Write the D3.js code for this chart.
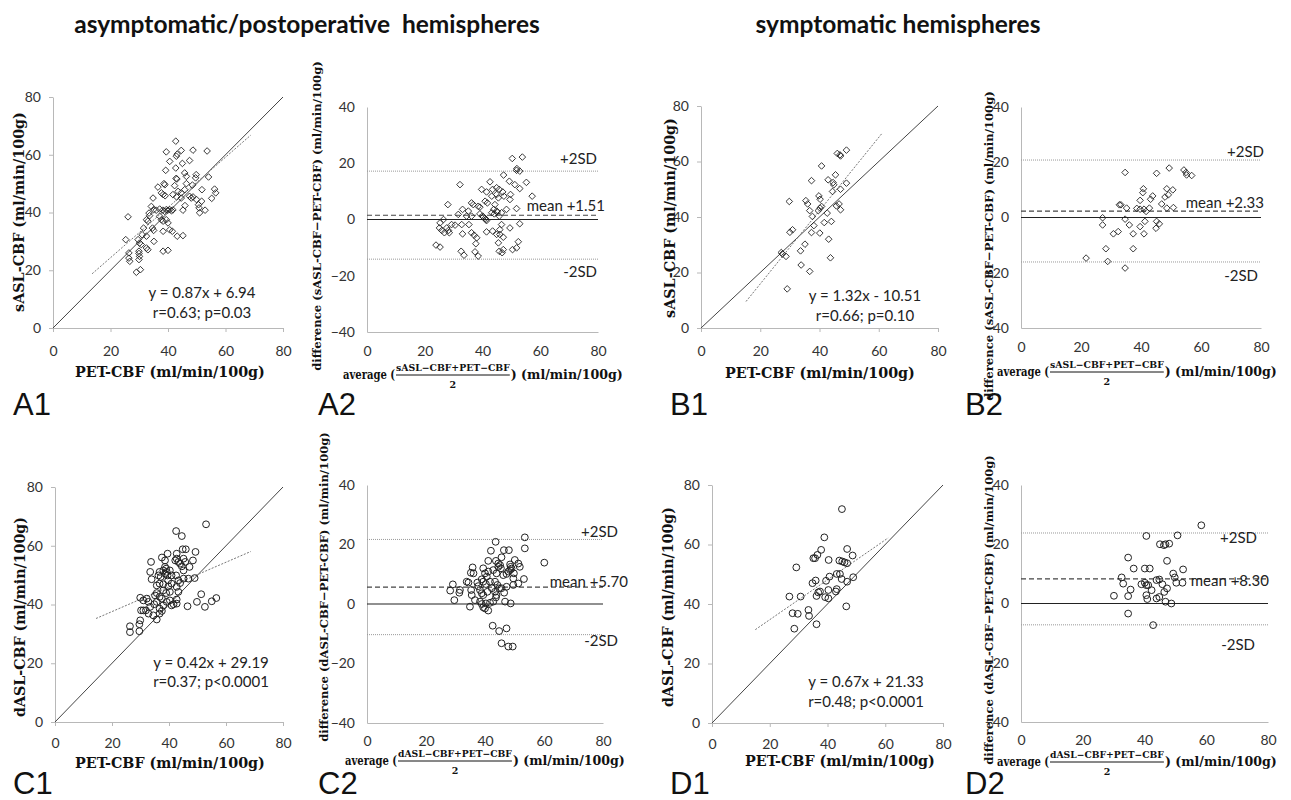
<!DOCTYPE html>
<html>
<head>
<meta charset="utf-8">
<script src="https://cdn.jsdelivr.net/npm/d3@7"></script>
<style>
  body { margin: 0; background: #fff; }
  svg { display: block; }
</style>
</head>
<body>
<svg id="fig" width="1291" height="800"></svg>
<script>
// ---------- values ----------
const scatterTicks = [0, 20, 40, 60, 80];
const diffTicks = [-40, -20, 0, 20, 40];

// A1: [PET-CBF, sASL-CBF], asymptomatic/postoperative
const a1Points = [[42.7,64.7],[39.4,61.0],[44.6,61.5],[48.7,61.6],[53.6,61.3],[42.9,59.5],[43.2,60.2],[45.0,57.0],[47.5,58.0],[40.6,57.7],[39.2,54.6],[42.7,55.4],[45.8,53.7],[46.4,52.5],[49.8,53.1],[49.6,52.0],[54.1,52.3],[43.1,51.6],[42.8,51.8],[38.6,50.0],[38.9,49.6],[36.5,48.8],[42.3,49.3],[46.4,50.0],[48.5,49.5],[51.8,47.9],[56.2,48.1],[56.6,46.8],[55.2,44.9],[34.8,45.0],[37.7,46.8],[38.3,46.2],[39.0,45.8],[41.7,46.2],[43.5,47.3],[44.6,46.8],[45.8,47.9],[43.0,45.4],[44.6,45.0],[47.5,45.6],[48.1,45.0],[48.7,45.4],[49.9,44.5],[45.9,42.4],[45.2,40.8],[50.6,42.7],[51.7,43.9],[50.8,41.6],[51.0,39.9],[52.9,40.8],[35.9,40.8],[37.1,41.2],[38.2,40.8],[38.8,40.4],[39.4,41.0],[40.0,40.8],[40.6,41.0],[41.2,40.6],[41.7,40.9],[34.2,42.1],[35.0,41.0],[37.1,38.7],[37.7,37.5],[38.3,37.0],[39.4,37.5],[40.0,36.4],[33.4,39.8],[33.6,38.9],[32.5,37.5],[33.0,37.0],[34.6,34.6],[35.0,33.8],[40.6,34.0],[41.5,33.5],[43.2,31.8],[45.2,32.0],[38.3,33.5],[35.1,30.0],[31.5,34.6],[31.0,32.3],[32.5,31.8],[29.6,30.6],[30.1,29.4],[30.7,28.9],[33.0,27.1],[32.5,27.7],[38.3,26.6],[40.0,26.9],[25.3,30.6],[26.4,26.0],[26.4,24.2],[26.7,23.1],[26.1,38.5],[29.9,26.6],[29.9,25.8],[30.1,24.8],[29.9,23.7],[29.0,19.3],[30.4,20.2]];
// A2: [average, difference]
const a2Points = [[50.3,21.7],[53.8,22.2],[51.9,18.1],[52.9,17.2],[51.8,17.5],[47.3,15.8],[49.3,13.6],[51.2,12.4],[52.9,11.0],[55.2,13.2],[57.2,8.3],[32.2,12.4],[42.6,13.4],[44.9,11.3],[43.5,10.7],[39.7,10.7],[41.4,9.8],[45.8,10.7],[47.0,9.8],[47.4,8.3],[44.9,8.9],[45.5,7.7],[43.2,8.3],[49.7,8.9],[49.5,7.1],[28.0,5.3],[36.2,5.9],[36.8,5.3],[38.5,4.7],[39.1,4.4],[33.1,3.6],[35.1,3.0],[40.9,6.5],[41.7,5.9],[44.3,5.3],[43.9,3.6],[44.9,3.0],[48.3,3.6],[46.6,2.4],[51.8,3.9],[31.6,1.8],[34.5,1.2],[36.2,1.2],[39.1,2.0],[40.0,1.2],[40.9,0.4],[41.4,-0.4],[40.3,0.9],[41.2,0.0],[45.1,2.7],[43.2,2.4],[44.1,2.0],[45.8,1.2],[26.5,0.0],[25.3,-1.2],[25.1,-3.0],[25.9,-3.9],[26.8,-4.7],[27.6,-3.0],[28.2,-3.9],[28.5,-4.7],[29.3,-1.8],[30.5,-2.0],[32.8,-1.8],[35.3,-1.8],[33.1,-5.1],[36.2,-4.7],[37.1,-5.6],[38.0,-6.5],[37.7,-8.6],[41.4,-4.4],[43.5,-4.1],[44.9,-5.3],[46.0,-3.6],[46.6,-1.8],[46.0,-5.3],[47.2,-6.3],[49.5,-3.0],[52.9,-1.5],[45.5,-8.3],[23.9,-9.1],[25.3,-9.8],[32.6,-11.3],[33.6,-12.7],[37.4,-11.5],[38.5,-13.0],[45.8,-11.3],[46.8,-11.8],[47.2,-10.7],[50.4,-10.7],[51.8,-10.1],[52.4,-7.9]];
// B1: symptomatic, sASL
const b1Points = [[49.1,64.1],[46.0,62.9],[46.9,62.4],[47.1,62.0],[40.7,58.4],[45.4,55.2],[37.3,53.1],[42.9,53.4],[44.6,52.4],[44.8,51.6],[49.1,52.2],[47.1,50.0],[44.4,49.2],[29.8,45.6],[35.4,45.9],[36.0,44.7],[39.8,47.6],[40.2,46.4],[36.7,42.3],[39.6,42.3],[40.2,43.2],[40.7,43.8],[37.6,40.2],[38.1,36.9],[45.7,44.0],[46.6,44.7],[47.1,42.6],[42.6,41.4],[44.0,38.4],[41.6,38.0],[40.1,34.2],[37.3,34.4],[30.0,34.5],[30.9,35.4],[43.1,32.0],[35.1,30.2],[33.6,27.8],[27.1,27.2],[27.5,26.7],[28.7,25.8],[43.7,25.3],[33.8,22.7],[36.7,20.4],[29.1,14.1]];
const b2Points = [[34.7,16.3],[45.2,16.0],[49.4,17.9],[54.3,17.2],[55.0,16.3],[55.2,15.4],[56.9,15.2],[40.8,10.4],[40.6,9.0],[48.6,10.4],[49.1,8.2],[50.6,10.0],[43.9,7.8],[43.2,6.6],[39.7,6.2],[48.0,7.4],[32.8,4.6],[33.3,4.6],[46.9,4.9],[35.2,3.4],[38.6,3.3],[39.7,3.0],[41.0,3.0],[41.7,2.2],[42.8,3.4],[48.6,3.4],[50.8,3.6],[27.2,-0.1],[27.2,-2.7],[34.7,-0.6],[36.1,-2.7],[39.7,-3.3],[45.2,-1.4],[46.1,-2.3],[45.0,-3.9],[41.3,-1.4],[30.8,-5.9],[32.4,-5.1],[37.4,-5.9],[41.0,-5.9],[28.3,-11.3],[37.4,-11.3],[21.7,-14.7],[28.9,-15.9],[34.7,-18.3]];
// C1: asymptomatic/postoperative, dASL
const c1Points = [[53.0,67.3],[42.5,65.0],[44.5,63.3],[39.5,57.3],[44.8,58.8],[45.9,58.8],[49.3,57.9],[42.7,57.3],[37.5,56.0],[38.6,55.0],[33.7,54.5],[42.2,55.0],[42.7,55.6],[43.3,54.5],[43.9,53.9],[45.1,55.6],[45.7,54.5],[48.4,55.0],[47.2,52.8],[45.1,51.6],[44.5,53.0],[33.4,51.1],[38.0,51.6],[38.6,52.8],[39.0,52.2],[39.2,51.1],[38.6,50.5],[39.5,49.9],[36.7,51.1],[37.1,49.4],[36.3,49.9],[40.3,51.6],[40.9,49.9],[39.7,48.2],[42.5,49.9],[43.3,48.2],[43.9,47.3],[45.1,48.8],[46.8,48.8],[49.0,49.0],[33.9,48.6],[35.7,46.5],[36.7,47.1],[38.0,46.9],[39.8,46.2],[40.9,47.1],[42.7,46.0],[43.3,44.3],[38.0,44.8],[39.0,43.9],[40.3,44.3],[35.1,43.1],[35.7,43.9],[36.7,42.6],[37.5,42.0],[32.2,42.0],[32.8,40.9],[31.0,41.4],[29.9,42.3],[30.2,38.0],[31.0,38.0],[31.9,38.0],[33.4,39.2],[34.8,40.1],[35.7,40.9],[36.7,38.6],[38.0,39.7],[39.2,40.9],[40.3,41.4],[40.9,39.7],[41.6,40.1],[42.7,40.3],[42.7,41.7],[32.8,36.9],[34.5,36.3],[35.7,34.9],[36.7,36.9],[37.5,37.8],[26.3,32.6],[26.3,30.6],[29.9,34.6],[29.6,33.3],[29.6,30.9],[46.5,39.4],[49.8,40.9],[51.3,43.5],[52.6,39.2],[55.0,41.1],[56.6,42.2]];
const c2Points = [[53.5,22.4],[43.6,20.9],[53.5,18.7],[42.0,17.9],[46.4,18.1],[48.1,18.1],[45.6,15.7],[60.1,13.9],[41.1,14.5],[43.7,14.5],[44.5,13.6],[45.1,13.1],[44.5,12.5],[45.4,12.0],[48.5,13.3],[48.7,12.5],[48.5,11.4],[47.9,10.9],[49.0,11.9],[50.1,14.8],[51.3,13.6],[51.8,12.5],[39.4,12.0],[36.1,10.3],[35.8,12.3],[35.2,10.5],[40.0,10.3],[41.1,10.9],[42.8,11.4],[43.9,10.3],[46.2,9.7],[47.3,10.1],[49.8,10.3],[49.6,8.6],[53.2,8.4],[38.9,8.3],[39.4,7.5],[40.3,6.7],[33.8,7.5],[34.4,7.2],[37.4,7.2],[37.7,6.0],[40.6,9.2],[41.7,7.5],[43.4,7.5],[44.2,6.4],[44.8,5.3],[45.6,5.3],[47.3,5.8],[49.6,6.4],[51.3,6.9],[29.1,6.6],[28.2,4.5],[31.5,4.7],[31.3,3.8],[35.3,4.7],[35.5,3.0],[38.3,4.7],[38.9,3.6],[39.4,3.0],[40.8,4.1],[42.3,5.3],[43.4,4.1],[43.9,3.0],[43.7,2.2],[46.5,3.8],[29.6,1.3],[34.9,-0.9],[36.6,1.3],[38.3,0.8],[38.9,0.0],[39.4,-1.1],[40.0,-1.5],[41.1,-2.2],[40.3,0.2],[41.7,0.4],[42.8,0.8],[46.8,0.8],[48.7,0.2],[42.6,-7.3],[44.8,-9.1],[47.3,-8.2],[45.6,-13.2],[47.9,-14.3],[49.4,-14.3]];
// D1: symptomatic, dASL
const d1Points = [[45.0,71.9],[38.9,62.4],[37.8,58.2],[36.5,56.5],[35.7,55.4],[35.1,55.4],[46.8,58.5],[48.7,56.3],[29.2,52.3],[40.4,54.8],[44.1,54.6],[45.1,54.3],[45.9,54.0],[46.8,53.7],[34.8,47.0],[35.9,47.9],[39.5,47.8],[40.7,49.2],[43.2,50.1],[44.3,50.1],[44.9,48.4],[48.9,49.0],[46.8,47.5],[40.3,44.7],[37.4,44.2],[36.8,43.9],[36.2,42.7],[39.2,42.3],[40.3,41.9],[43.2,45.0],[42.9,44.2],[26.8,42.5],[30.7,42.5],[27.9,36.9],[29.7,36.7],[33.4,38.0],[33.6,36.0],[28.5,31.7],[36.2,33.2],[46.5,39.2]];
const d2Points = [[58.4,26.4],[40.6,22.8],[50.7,23.0],[45.0,20.0],[46.3,19.7],[46.8,20.0],[48.0,20.2],[34.7,15.5],[47.3,14.4],[36.5,11.8],[40.1,11.8],[41.7,11.8],[52.5,11.5],[49.3,10.1],[32.6,8.8],[33.1,6.7],[39.0,6.5],[40.1,7.0],[40.6,6.2],[41.2,6.2],[43.9,7.9],[44.8,8.1],[49.8,8.8],[50.3,7.0],[52.3,7.0],[35.5,4.7],[42.3,4.5],[45.8,6.5],[46.4,3.9],[47.3,5.1],[30.1,2.6],[34.7,2.5],[40.6,2.8],[40.9,1.5],[43.9,1.7],[44.8,2.2],[46.8,0.6],[48.7,0.0],[34.7,-3.4],[42.8,-7.3]];

// regression lines: [slope, intercept, x start, x end]
const a1Fit = [0.87, 6.94, 13.6, 68.8];
const b1Fit = [1.32, -10.51, 15.2, 61.2];
const c1Fit = [0.42, 29.19, 14.4, 68.7];
const d1Fit = [0.67, 21.33, 15.0, 61.0];
const fitLabels = [
  ["y = 0.87x + 6.94", "r=0.63; p=0.03"],
  ["y = 1.32x - 10.51", "r=0.66; p=0.10"],
  ["y = 0.42x + 29.19", "r=0.37; p<0.0001"],
  ["y = 0.67x + 21.33", "r=0.48; p<0.0001"]
];
// Bland-Altman: [mean, +2SD, -2SD]
const a2Stats = [1.51, 17.2, -14.1];
const b2Stats = [2.33, 20.8, -16.1];
const c2Stats = [5.70, 21.7, -10.3];
const d2Stats = [8.30, 23.8, -7.2];
const meanLabels = ["mean +1.51", "mean +2.33", "mean +5.70", "mean +8.30"];
const panelNames = ["A1", "A2", "B1", "B2", "C1", "C2", "D1", "D2"];

// ---------- layout ----------
const svg = d3.select("#fig");
const sans = "Lato, 'Open Sans', sans-serif";
const serif = "'DejaVu Serif', 'Liberation Serif', serif";
const axisGrey = "#b8b8b8";

const scatterPanels = [
  { pts: a1Points, fit: a1Fit, lab: fitLabels[0], shape: "diamond", ytitle: "sASL-CBF (ml/min/100g)",
    left: 53, right: 283, top: 97, bottom: 328, xPad: 14, eq: [202, 298, 318], xt: [170, 377], yt: [24, 212] },
  { pts: b1Points, fit: b1Fit, lab: fitLabels[1], shape: "diamond", ytitle: "sASL-CBF (ml/min/100g)",
    left: 701, right: 938, top: 106, bottom: 328, xPad: 14, eq: [865, 301, 321], xt: [820, 378], yt: [675, 218] },
  { pts: c1Points, fit: c1Fit, lab: fitLabels[2], shape: "circle", ytitle: "dASL-CBF (ml/min/100g)",
    left: 55, right: 283, top: 487, bottom: 722, xPad: 12, eq: [211, 668, 687], xt: [170, 768], yt: [25, 617] },
  { pts: d1Points, fit: d1Fit, lab: fitLabels[3], shape: "circle", ytitle: "dASL-CBF (ml/min/100g)",
    left: 712, right: 943, top: 485, bottom: 723, xPad: 12, eq: [866, 687, 707], xt: [840, 766], yt: [673, 607] }
];

const baPanels = [
  { pts: a2Points, stats: a2Stats, mean: meanLabels[0], shape: "diamond", who: "sASL",
    left: 367, right: 598, top: 107, bottom: 332, xPad: 14,
    plus: [597, 164], meanAt: [605, 211], minus: [597, 277], xt: [343, 379], yt: [321, 216] },
  { pts: b2Points, stats: b2Stats, mean: meanLabels[1], shape: "diamond", who: "sASL",
    left: 1021, right: 1261, top: 107, bottom: 328, xPad: 14,
    plus: [1264, 157], meanAt: [1264, 208], minus: [1258, 281], xt: [997, 376], yt: [993, 246] },
  { pts: c2Points, stats: c2Stats, mean: meanLabels[2], shape: "circle", who: "dASL",
    left: 367, right: 603, top: 485, bottom: 723, xPad: 13,
    plus: [618, 537], meanAt: [628, 587], minus: [618, 646], xt: [345, 765], yt: [328, 587] },
  { pts: d2Points, stats: d2Stats, mean: meanLabels[3], shape: "circle", who: "dASL",
    left: 1021, right: 1268, top: 485, bottom: 722, xPad: 13,
    plus: [1257, 543], meanAt: [1269, 586], minus: [1255, 650], xt: [997, 766], yt: [993, 610] }
];

const labelPos = [[13, 415], [318, 415], [670, 415], [965, 415], [13, 794], [318, 794], [670, 794], [965, 794]];

const diamondPath = "M0,-3.3L3.3,0L0,3.3L-3.3,0Z";
const circlePath = d3.symbol(d3.symbolCircle).size(Math.PI * 3.4 * 3.4)();

function styleAxis(g) {
  g.select(".domain").attr("stroke", axisGrey);
  g.selectAll(".tick line").attr("stroke", axisGrey);
  g.selectAll(".tick text").attr("fill", "#333")
    .style("font-family", sans).style("font-size", "14px");
}

function drawMarks(g, pts, shape, x, y) {
  g.append("g").selectAll("path").data(pts).join("path")
    .attr("transform", d => `translate(${x(d[0])},${y(d[1])})`)
    .attr("d", shape === "diamond" ? diamondPath : circlePath)
    .attr("fill", "none")
    .attr("stroke", "#222")
    .attr("stroke-width", shape === "diamond" ? 0.9 : 1);
}

// serif bold label; if a width is given the font size is scaled to reach it
function serifText(g, x, y, size, txt, width) {
  const t = g.append("text").attr("x", x).attr("y", y)
    .attr("font-family", serif).attr("font-weight", "bold")
    .attr("font-size", size).attr("fill", "#111")
    .attr("xml:space", "preserve").text(txt);
  if (width) {
    const len = t.node().getComputedTextLength();
    if (len > 0) t.attr("font-size", size * width / len);
  }
  return t;
}

// ---------- scatter panels ----------
scatterPanels.forEach(p => {
  const x = d3.scaleLinear().domain([0, 80]).range([p.left, p.right]);
  const y = d3.scaleLinear().domain([0, 80]).range([p.bottom, p.top]);
  const g = svg.append("g");

  g.append("g").attr("transform", `translate(0,${p.bottom})`)
    .call(d3.axisBottom(x).tickValues(scatterTicks).tickSize(4).tickSizeOuter(0).tickPadding(p.xPad))
    .call(styleAxis);
  g.append("g").attr("transform", `translate(${p.left},0)`)
    .call(d3.axisLeft(y).tickValues(scatterTicks).tickSize(4).tickSizeOuter(0).tickPadding(8))
    .call(styleAxis);

  // line of identity
  g.append("line")
    .attr("x1", x(0)).attr("y1", y(0)).attr("x2", x(80)).attr("y2", y(80))
    .attr("stroke", "#444").attr("stroke-width", 1);

  const [m, b, xa, xb] = p.fit;
  g.append("line")
    .attr("x1", x(xa)).attr("y1", y(m * xa + b)).attr("x2", x(xb)).attr("y2", y(m * xb + b))
    .attr("stroke", "#777").attr("stroke-width", 1).attr("stroke-dasharray", "2,1.5");

  drawMarks(g, p.pts, p.shape, x, y);

  p.lab.forEach((t, i) => {
    g.append("text").attr("x", p.eq[0]).attr("y", p.eq[1 + i])
      .attr("text-anchor", "middle").attr("font-family", sans)
      .attr("font-size", 15).attr("fill", "#222").text(t);
  });

  serifText(g, p.xt[0], p.xt[1], 14, "PET-CBF (ml/min/100g)", 190).attr("text-anchor", "middle");
  serifText(g, 0, 0, 14, p.ytitle, 200).attr("text-anchor", "middle")
    .attr("transform", `translate(${p.yt[0]},${p.yt[1]}) rotate(-90)`);
});

// ---------- Bland-Altman panels ----------
baPanels.forEach(p => {
  const x = d3.scaleLinear().domain([0, 80]).range([p.left, p.right]);
  const y = d3.scaleLinear().domain([-40, 40]).range([p.bottom, p.top]);
  const g = svg.append("g");

  g.append("g").attr("transform", `translate(0,${p.bottom})`)
    .call(d3.axisBottom(x).tickValues(scatterTicks).tickSize(0).tickPadding(p.xPad))
    .call(styleAxis);
  g.append("g").attr("transform", `translate(${p.left},0)`)
    .call(d3.axisLeft(y).tickValues(diffTicks).tickSize(0).tickPadding(12))
    .call(styleAxis);

  const [mean, hi, lo] = p.stats;
  [hi, lo].forEach(v => {
    g.append("line").attr("x1", p.left).attr("x2", p.right).attr("y1", y(v)).attr("y2", y(v))
      .attr("stroke", "#999").attr("stroke-width", 1).attr("stroke-dasharray", "1,1");
  });
  g.append("line").attr("x1", p.left).attr("x2", p.right).attr("y1", y(0)).attr("y2", y(0))
    .attr("stroke", "#222").attr("stroke-width", 1.2);
  g.append("line").attr("x1", p.left).attr("x2", p.right).attr("y1", y(mean)).attr("y2", y(mean))
    .attr("stroke", "#444").attr("stroke-width", 1.2).attr("stroke-dasharray", "5,3");

  drawMarks(g, p.pts, p.shape, x, y);

  [["+2SD", p.plus], [p.mean, p.meanAt], ["-2SD", p.minus]].forEach(([t, pos]) => {
    g.append("text").attr("x", pos[0]).attr("y", pos[1]).attr("text-anchor", "end")
      .attr("font-family", sans).attr("font-size", 15).attr("fill", "#222").text(t);
  });

  // x title with a stacked fraction; "average (" is squeezed to keep its height
  const base = p.xt[1];
  serifText(g, p.xt[0], base, 12.5, "average (")
    .attr("textLength", 52).attr("lengthAdjust", "spacingAndGlyphs");
  const fx = p.xt[0] + 53;
  const num = serifText(g, fx, base - 8, 9.5, p.who + "\u2212CBF+PET\u2212CBF", 114);
  const w = num.node().getComputedTextLength();
  g.append("line").attr("x1", fx).attr("x2", fx + w).attr("y1", base - 4).attr("y2", base - 4)
    .attr("stroke", "#111").attr("stroke-width", 1);
  serifText(g, fx + w / 2, base + 9, 9.5, "2").attr("text-anchor", "middle");
  serifText(g, fx + w + 1, base, 13, ") (ml/min/100g)", 112);

  serifText(g, 0, 0, 11.5, `difference (${p.who}-CBF\u2212PET-CBF) (ml/min/100g)`, 310)
    .attr("text-anchor", "middle")
    .attr("transform", `translate(${p.yt[0]},${p.yt[1]}) rotate(-90)`);
});

// ---------- headings and panel letters ----------
svg.append("text").attr("x", 307).attr("y", 33).attr("text-anchor", "middle")
  .attr("font-family", sans).attr("font-weight", "bold").attr("font-size", 24.5)
  .attr("fill", "#111").attr("xml:space", "preserve")
  .text("asymptomatic/postoperative  hemispheres");
svg.append("text").attr("x", 898).attr("y", 33).attr("text-anchor", "middle")
  .attr("font-family", sans).attr("font-weight", "bold").attr("font-size", 24.5)
  .attr("fill", "#111").text("symptomatic hemispheres");

svg.selectAll(".panel-name").data(panelNames).join("text")
  .attr("class", "panel-name")
  .attr("x", (d, i) => labelPos[i][0]).attr("y", (d, i) => labelPos[i][1])
  .attr("font-family", "'Liberation Sans', Arial, sans-serif")
  .attr("font-size", 31).attr("fill", "#111").text(d => d);
</script>
</body>
</html>
